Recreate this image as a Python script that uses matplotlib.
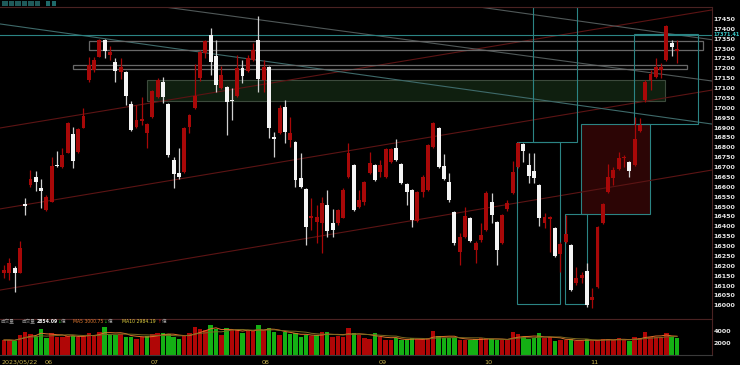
import matplotlib
matplotlib.use("Agg")
import matplotlib.pyplot as plt
from matplotlib.patches import Rectangle
import numpy as np
import pandas as pd

# ---------------- data ----------------
opens = [16163,16163,16189,16163,16513,16609,16650,16594,16482,16523,16711,16700,16771,16868,16776,16898,17141,17192,17258,17344,
         17268,17232,17182,17182,17020,16903,16933,16873,16954,17055,17131,17020,16736,16670,16675,16903,16999,17151,17278,17369,
         17263,17101,17106,17040,17060,17202,17187,17242,17344,17141,17207,16852,16873,17004,16837,16827,16645,16589,16442,16422,
         16417,16508,16417,16417,16442,16650,16711,16498,16523,16670,16711,16675,16650,16726,16797,16716,16614,16584,16427,16574,
         16584,16802,16898,16705,16624,16472,16270,16346,16442,16280,16331,16381,16523,16422,16315,16488,16569,16700,16817,16711,
         16680,16609,16417,16437,16391,16260,16320,16305,16113,16138,16174,16027,16093,16417,16574,16645,16690,16746,16726,16711,
         16883,17040,17141,17156,17192,17242,17328,17288]
highs = [16204,16240,16199,16325,16543,16685,16680,16640,16558,16751,16781,16797,16928,16903,16898,16999,17258,17258,17349,17349,
         17313,17252,17252,17187,17035,17014,17055,16923,17090,17151,17156,17025,16751,16797,16903,16969,17222,17293,17344,17405,
         17344,17212,17111,17101,17268,17242,17268,17328,17465,17242,17212,16878,17014,17040,16954,16832,16771,16594,16543,16508,
         16548,16584,16488,16488,16594,16822,16716,16584,16629,16776,16716,16736,16797,16797,16842,16721,16619,16589,16579,16660,
         16817,16928,16903,16766,16670,16477,16366,16498,16447,16325,16417,16579,16569,16427,16462,16533,16731,16827,16822,16771,
         16771,16614,16467,16452,16396,16320,16457,16310,16194,16168,16214,16087,16401,16518,16716,16700,16776,16761,16731,16954,
         16949,17141,17192,17252,17227,17420,17344,17344]
lows = [16138,16128,16067,16163,16457,16599,16579,16493,16477,16523,16700,16695,16771,16695,16771,16898,17131,17182,17258,17252,
        17242,17131,17146,17014,16883,16898,16913,16797,16949,17050,17025,16751,16594,16640,16670,16873,16994,17136,17252,17166,
        17080,17096,16863,16938,17055,17126,17182,17237,17080,17080,16847,16751,16868,16822,16802,16599,16594,16305,16381,16315,
        16265,16346,16346,16407,16442,16645,16477,16493,16508,16665,16629,16650,16645,16721,16731,16614,16508,16396,16422,16548,
        16579,16797,16695,16634,16523,16305,16204,16341,16320,16214,16320,16376,16417,16204,16310,16477,16564,16695,16726,16619,
        16619,16402,16391,16270,16244,16168,16315,16072,16103,16113,15991,15986,16087,16412,16569,16609,16685,16700,16650,16705,
        16878,17030,17090,17151,17151,17237,17263,17227]
closes = [16179,16214,16163,16290,16503,16640,16624,16579,16548,16705,16705,16761,16923,16731,16893,16959,17217,17242,17344,17288,
          17283,17187,17207,17060,16888,16938,16943,16918,17085,17141,17055,16761,16665,16650,16898,16964,17060,17283,17339,17232,
          17116,17166,17030,17035,17202,17161,17252,17293,17146,17207,16898,16842,16999,16878,16873,16634,16599,16396,16452,16447,
          16518,16376,16381,16482,16584,16771,16482,16533,16624,16721,16634,16711,16792,16792,16736,16619,16574,16432,16574,16650,
          16812,16923,16700,16640,16533,16315,16346,16452,16325,16315,16356,16569,16457,16280,16457,16518,16675,16822,16781,16655,
          16645,16442,16447,16447,16249,16310,16361,16077,16138,16153,16001,16042,16396,16513,16650,16685,16746,16751,16680,16842,
          16913,17131,17171,17207,17207,17415,17308,17298]
volumes = [2500,2500,2333,3333,3833,3567,3167,4283,2783,3617,3050,3050,3167,3167,3050,3167,3617,3283,3833,4617,
           3333,3333,3450,3050,3050,2733,2950,3167,3450,3733,3617,3500,3050,2717,3283,3617,4733,4400,4167,4950,
           4400,3283,4500,4167,4283,3700,4000,4000,4950,4167,4500,3833,3283,3833,3450,3617,3067,3283,3167,3283,
           3833,3833,3067,3167,3067,4500,3617,3283,2833,2733,3617,3067,2500,2500,2833,2500,2500,2833,2617,2617,
           2833,4000,3167,2833,2833,2833,2500,2500,2500,2617,2833,2833,2617,2500,2500,2500,3833,3450,3067,2617,
           2833,3733,2833,2950,2283,2500,2500,2617,2283,2283,2733,2400,2500,2617,2617,2500,2833,2500,2400,2950,
           2833,3900,3067,3067,3067,3617,3067,2854]

price_ticks = list(range(16000, 17451, 50))
vol_ticks = [2000, 4000]
date_labels = ["2023/05/22", "06", "07", "08", "09", "10", "11"]
date_idx = [0, 8, 28, 49, 71, 91, 111]
last_price = 17371.41
vol_text = ["成交量", "成交量", "2854.09", "MA5 3000.75", "MA10 2984.19"]

# drawing objects (index, price)
channel_lines = [((-0.75, 16077), (133.6, 16685)),
                 ((-0.75, 16488), (133.6, 17090)),
                 ((-0.75, 16898), (133.6, 17496))]
down_lines = [((-0.75, 17425), (133.6, 16918)),
              ((27.5, 17521), (133.6, 17136)),
              ((89.6, 17511), (133.6, 17345))]
zone_boxes = [(16.0, 131.9, 17293, 17339), (13.0, 128.9, 17197, 17217)]
green_zone = (27.0, 124.7, 17035, 17141)
teal_boxes = [(99.8, 108.1, 16827, 17511), (96.8, 104.9, 16007, 16827),
              (105.8, 110.0, 16007, 16462), (118.9, 130.9, 16918, 17374)]
red_box = (108.9, 121.9, 16462, 16918)

# ---------------- figure ----------------
W, H = 740, 365
fig = plt.figure(figsize=(W / 100, H / 100), dpi=100, facecolor="black")
ax = fig.add_axes([0, (H - 319) / H, 712 / W, (319 - 7) / H], facecolor="black")
axv = fig.add_axes([0, (H - 355) / H, 712 / W, (355 - 319) / H], facecolor="black")

n = len(closes)
x = np.arange(n)
o = np.array(opens); c = np.array(closes); hi = np.array(highs); lo = np.array(lows)
up = c >= o

RED = "#a80808"
WHITE = "#f4f4f4"
TEAL = "#2b8484"

# drawings
for (x0, y0), (x1, y1) in channel_lines:
    ax.plot([x0, x1], [y0, y1], color="#5c1414", lw=0.8, zorder=1)
for k, ((x0, y0), (x1, y1)) in enumerate(down_lines):
    ax.plot([x0, x1], [y0, y1], color="#3e6a6a" if k == 0 else "#505858", lw=0.8, zorder=1)
ax.axhline(last_price, color=TEAL, lw=0.8, zorder=1)
for xa, xb, ya, yb in zone_boxes:
    ax.add_patch(Rectangle((xa, ya), xb - xa, yb - ya, fill=False, ec="#686868", lw=0.9, zorder=1))
xa, xb, ya, yb = green_zone
ax.add_patch(Rectangle((xa, ya), xb - xa, yb - ya, fc="#0f1f0f", ec="#3c4a3c", lw=0.8, zorder=0.5))
xa, xb, ya, yb = red_box
ax.add_patch(Rectangle((xa, ya), xb - xa, yb - ya, fc="#2c0505", ec=TEAL, lw=0.8, zorder=0.5))
for xa, xb, ya, yb in teal_boxes:
    ax.add_patch(Rectangle((xa, ya), xb - xa, yb - ya, fill=False, ec=TEAL, lw=0.8, zorder=1))

# candles
body_col = np.where(up, RED, WHITE)
wick_col = np.where(up, RED, "#d0d0d0")
ax.vlines(x, lo, hi, colors=wick_col, lw=0.9, zorder=2)
bottoms = np.minimum(o, c)
heights = np.maximum(np.abs(c - o), 5)
ax.bar(x, heights, bottom=bottoms, width=0.74, color=body_col, lw=0, zorder=3)

ax.set_xlim(-0.755, 133.6)
ax.set_ylim(15930.5, 17510.8)
ax.yaxis.tick_right()
ax.set_yticks(price_ticks)
ax.set_yticklabels([str(t) for t in price_ticks], fontsize=4.6, color="#e6e6e6", fontweight="bold")
ax.tick_params(axis="y", length=0, pad=1.2)
ax.set_xticks([])
for s in ax.spines.values():
    s.set_color("#4a2222"); s.set_linewidth(0.8)
ax.spines["left"].set_visible(False)

ax.text(1.002, (last_price - 15930.5) / (17510.8 - 15930.5), f"{last_price:.2f}", transform=ax.transAxes,
        fontsize=3.6, color="#38c8c8", va="center", ha="left", fontweight="bold")

# volume
vprev = np.r_[c[0], c[:-1]]
vcol = np.where(c >= vprev, "#b00606", "#14b014")
axv.bar(x, volumes, width=0.84, color=vcol, lw=0, zorder=2)
vs = pd.Series(volumes, dtype=float)
axv.plot(x, vs.rolling(5, min_periods=1).mean(), color="#e0702a", lw=0.7, zorder=3)
axv.plot(x, vs.rolling(10, min_periods=1).mean(), color="#7a6a20", lw=0.7, zorder=3)
axv.set_xlim(-0.755, 133.6)
axv.set_ylim(0, 6000)
axv.yaxis.tick_right()
axv.set_yticks(vol_ticks)
axv.set_yticklabels([str(t) for t in vol_ticks], fontsize=4.6, color="#e6e6e6", fontweight="bold")
axv.tick_params(axis="y", length=0, pad=1.2)
axv.set_xticks([])
for s in axv.spines.values():
    s.set_color("#4a2222"); s.set_linewidth(0.8)
axv.spines["left"].set_visible(False)
axv.spines["bottom"].set_color("#3a3a3a")

# date labels
for i, lab in zip(date_idx, date_labels):
    xf = (4 + 5.3 * i - 2) / W
    fig.text(xf, (H - 362) / H, lab, fontsize=4.6, color="#c8b450", ha="left", va="center")

# volume header text
cjk = ["Noto Sans CJK TC", "DejaVu Sans"]
lat = ["DejaVu Sans"]
yt = (H - 321.5) / H
def ft(px, s, col, fam, fs=3.3, **kw):
    fig.text(px / W, yt, s, fontsize=fs, color=col, ha="left", va="center", family=fam, **kw)
ft(1, vol_text[0], "#9a9a9a", cjk)
ft(21.5, vol_text[1], "#9a9a9a", cjk)
ft(37, vol_text[2], "#f0f0f0", lat, fontweight="bold")
ft(57, "↓", "#20c020", lat)
ft(61, "億", "#9a9a9a", cjk)
ft(73, vol_text[3], "#e07a30", lat)
ft(103.5, "↓", "#20c020", lat)
ft(107.5, "億", "#9a9a9a", cjk)
ft(122, vol_text[4], "#e0d040", lat)
ft(157.5, "↑", "#e02020", lat)
ft(161.5, "億", "#9a9a9a", cjk)

# toolbar glyphs
for k in range(6):
    fig.patches.append(Rectangle(((2 + 6.5 * k) / W, (H - 6) / H), 5.5 / W, 5 / H,
                                 transform=fig.transFigure, fc="#1f5a5a", ec="none"))
for k in range(2):
    fig.patches.append(Rectangle(((46 + 5.5 * k) / W, (H - 6) / H), 4.5 / W, 5 / H,
                                 transform=fig.transFigure, fc="#1f6a6a", ec="none"))

fig.savefig("out.png", dpi=100, facecolor="black")
